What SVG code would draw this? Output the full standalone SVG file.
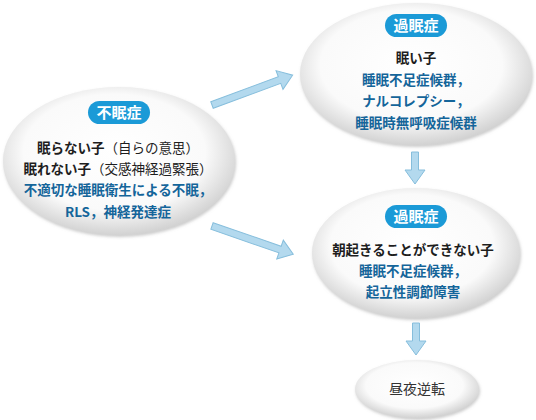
<svg xmlns="http://www.w3.org/2000/svg" width="536" height="420" viewBox="0 0 536 420">
<style>
text{font-family:"Noto Sans CJK JP","Noto Sans",sans-serif;text-anchor:middle}
.bk{fill:#1e1e1e;font-weight:bold;font-size:13.5px}
.bl{fill:#14659a;font-weight:bold;font-size:13.5px}
.nm{font-weight:normal}
.badge{fill:#1b9ad7}
.bt{fill:#fff;font-size:15px;font-weight:bold}
.ell{fill:url(#g);filter:url(#sh)}
.arr{fill:#b3d9ee;stroke:#86bedc;stroke-width:1}
</style>
<defs>
<radialGradient id="g" cx="48%" cy="44%" r="56%">
<stop offset="0" stop-color="#ffffff"/>
<stop offset="0.7" stop-color="#fafafa"/>
<stop offset="1" stop-color="#d2d2d2"/>
</radialGradient>
<filter id="sh" x="-10%" y="-10%" width="120%" height="125%">
<feDropShadow dx="1" dy="2" stdDeviation="1.5" flood-color="#999" flood-opacity="0.5"/>
</filter>
<path id="a86" d="M0,-3.5 H72 V-10 L86,0 L72,10 V3.5 H0Z"/>
<path id="a32" d="M0,-3.5 H18 V-10 L32,0 L18,10 V3.5 H0Z"/>
</defs>
<g id="connectors">
<use href="#a86" class="arr" transform="translate(212,105) rotate(-20.3)"/>
<use href="#a86" class="arr" transform="translate(212,226) rotate(19.1)"/>
<use href="#a32" class="arr" transform="translate(415,152) rotate(90)"/>
<use href="#a32" class="arr" transform="translate(416,323) rotate(90)"/>
</g>
<g id="insomnia">
<ellipse class="ell" cx="119" cy="161" rx="116" ry="74"/>
<rect class="badge" x="88" y="101" width="62" height="23" rx="11.5"/>
<text class="bt" x="119" y="118">不眠症</text>
<text class="bk" x="118" y="153">眠らない子<tspan class="nm">（自らの意思）</tspan></text>
<text class="bk" x="118" y="174">眠れない子<tspan class="nm">（交感神経過緊張）</tspan></text>
<text class="bl" x="118" y="195">不適切な睡眠衛生による不眠，</text>
<text class="bl" x="118" y="217">RLS，神経発達症</text>
</g>
<g id="hypersomnia1">
<ellipse class="ell" cx="416" cy="74" rx="116" ry="71"/>
<rect class="badge" x="385" y="14" width="62" height="23" rx="11.5"/>
<text class="bt" x="416" y="31">過眠症</text>
<text class="bk" x="416" y="63">眠い子</text>
<text class="bl" x="416" y="85">睡眠不足症候群，</text>
<text class="bl" x="416" y="106">ナルコレプシー，</text>
<text class="bl" x="416" y="128">睡眠時無呼吸症候群</text>
</g>
<g id="hypersomnia2">
<ellipse class="ell" cx="416" cy="253" rx="104" ry="65"/>
<rect class="badge" x="385" y="205" width="62" height="23" rx="11.5"/>
<text class="bt" x="416" y="222">過眠症</text>
<text class="bk" x="413" y="255">朝起きることができない子</text>
<text class="bl" x="413" y="276">睡眠不足症候群，</text>
<text class="bl" x="413" y="297">起立性調節障害</text>
</g>
<g id="reversal">
<ellipse class="ell" cx="417" cy="389" rx="62" ry="29"/>
<text x="417" y="394" style="fill:#333;font-size:14px">昼夜逆転</text>
</g>
</svg>
